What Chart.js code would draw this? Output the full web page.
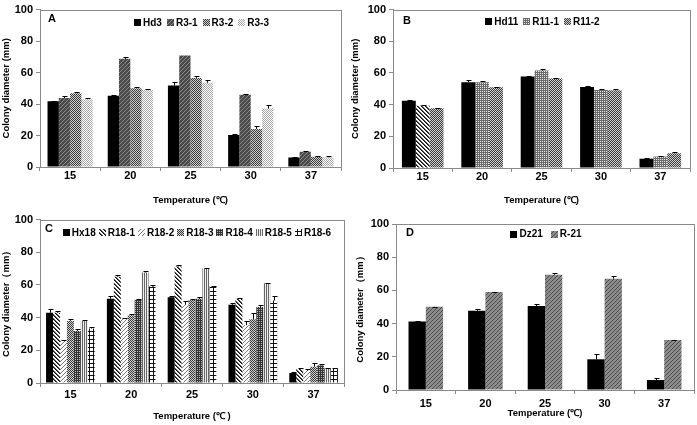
<!DOCTYPE html>
<html>
<head>
<meta charset="utf-8">
<script src="https://cdn.jsdelivr.net/npm/chart.js@4.4.1/dist/chart.umd.min.js"></script>
<style>
  body { margin: 0; background: #fff; }
  #wrap { position: relative; width: 697px; height: 425px; background: #fff; }
  canvas { position: absolute; }
</style>
</head>
<body>
<div id="wrap">
  <canvas id="cA" width="347" height="210" style="left:0;top:0"></canvas>
  <canvas id="cB" width="350" height="210" style="left:347px;top:0"></canvas>
  <canvas id="cC" width="347" height="215" style="left:0;top:210px"></canvas>
  <canvas id="cD" width="350" height="215" style="left:347px;top:210px"></canvas>
</div>
<script>
// temperaturas (categorias comuns aos 4 painéis)
const temperaturas = ['15', '20', '25', '30', '37'];
const yTicks = [0, 20, 40, 60, 80, 100];

// Painel A
const hd3 = [41.7, 45.3, 51.8, 20.3, 6.0];
const r3_1 = [43.8, 68.7, 70.8, 45.9, 9.7];
const r3_2 = [46.9, 50.1, 56.6, 24.2, 6.5];
const r3_3 = [43.1, 49.0, 53.6, 37.1, 6.2];
const errHd3 = [0.4, 0.5, 2.5, 0.4, 0.3];
const errR3_1 = [1.5, 1.5, 0, 0.3, 0.3];
const errR3_2 = [1.0, 1.0, 1.0, 2.0, 0.5];
const errR3_3 = [0.5, 0.5, 1.5, 2.5, 0.6];

// Painel B
const hd11 = [42.4, 54.2, 57.8, 51.1, 5.8];
const r11_1 = [39.3, 54.2, 61.5, 49.3, 7.2];
const r11_2 = [37.7, 50.9, 56.5, 49.1, 9.3];
const errHd11 = [0.5, 1.6, 0.5, 0.7, 0.3];
const errR11_1 = [0.5, 0.5, 0.7, 0.3, 0.6];
const errR11_2 = [0.3, 0.3, 0.5, 0.7, 0.7];

// Painel C
const hx18 = [43.0, 51.6, 52.5, 47.9, 6.1];
const r18_1 = [43.0, 65.0, 71.3, 51.5, 8.5];
const r18_2 = [25.7, 39.4, 47.9, 35.4, 7.5];
const r18_3 = [38.0, 41.4, 50.8, 39.0, 10.0];
const r18_4 = [31.9, 50.9, 51.5, 46.5, 10.9];
const r18_5 = [38.0, 67.7, 70.1, 61.0, 9.1];
const r18_6 = [33.3, 59.0, 59.0, 50.5, 9.1];
const errHx18 = [2.5, 1.5, 0.8, 1.0, 0.5];
const errR18_1 = [0.8, 0.8, 1.0, 0.8, 0.5];
const errR18_2 = [0.5, 0.5, 2.5, 2.5, 1.0];
const errR18_3 = [1.0, 0.8, 0.5, 4.0, 2.5];
const errR18_4 = [1.0, 0.5, 1.0, 1.0, 0.8];
const errR18_5 = [0.3, 0.8, 0.5, 0.3, 0.3];
const errR18_6 = [0.8, 1.0, 0.5, 2.5, 0.3];

// Painel D
const dz21 = [41.2, 47.8, 50.6, 18.5, 6.0];
const r21 = [50.1, 59.1, 69.5, 67.0, 30.1];
const errDz21 = [0.5, 1.2, 1.0, 3.0, 1.0];
const errR21 = [0.2, 0.2, 1.0, 1.5, 0.2];

const FONTE = 'Liberation Sans, Arial, sans-serif';

// Cria texturas para as barras
function textura(tipo) {
  const c = document.createElement('canvas');
  c.width = 4; c.height = 4;
  const g = c.getContext('2d');
  function px(x, y, cor) { g.fillStyle = cor; g.fillRect(x, y, 1, 1); }
  if (tipo === 'diagEscura') {
    g.fillStyle = '#4a4a4a'; g.fillRect(0, 0, 4, 4);
    for (let i = 0; i < 4; i++) px(i, 3 - i, '#8a8a8a');
  } else if (tipo === 'xadrez') {
    for (let x = 0; x < 4; x++) for (let y = 0; y < 4; y++)
      px(x, y, (x + y) % 2 ? '#d0d0d0' : '#3a3a3a');
  } else if (tipo === 'xadrezClaro') {
    for (let x = 0; x < 4; x++) for (let y = 0; y < 4; y++)
      px(x, y, (x + y) % 2 ? '#ffffff' : '#a8a8a8');
  } else if (tipo === 'grade') {
    g.fillStyle = '#e8e8e8'; g.fillRect(0, 0, 4, 4);
    g.fillStyle = '#6a6a6a'; g.fillRect(0, 0, 4, 1); g.fillRect(0, 0, 1, 4);
    g.fillRect(0, 2, 4, 1); g.fillRect(2, 0, 1, 4);
  } else if (tipo === 'gradeEscura') {
    g.fillStyle = '#bbbbbb'; g.fillRect(0, 0, 4, 4);
    g.fillStyle = '#333'; g.fillRect(0, 0, 4, 1); g.fillRect(0, 0, 1, 4);
    g.fillRect(0, 2, 4, 1); g.fillRect(2, 0, 1, 4);
  } else if (tipo === 'diagBranca') {
    g.fillStyle = '#fff'; g.fillRect(0, 0, 4, 4);
    for (let i = 0; i < 4; i++) { px(i, i, '#111'); px((i + 1) % 4, i, '#555'); }
  } else if (tipo === 'diagLeve') {
    g.fillStyle = '#fff'; g.fillRect(0, 0, 4, 4);
    for (let i = 0; i < 4; i++) px(i, 3 - i, '#777');
  } else if (tipo === 'vertical') {
    g.fillStyle = '#eee'; g.fillRect(0, 0, 4, 4);
    g.fillStyle = '#666'; g.fillRect(0, 0, 1, 4); g.fillRect(2, 0, 1, 4);
  } else if (tipo === 'mais') {
    g.fillStyle = '#fff'; g.fillRect(0, 0, 4, 4);
    g.fillStyle = '#111'; g.fillRect(0, 1, 4, 1); g.fillRect(1, 0, 1, 4);
  } else if (tipo === 'diagCinza') {
    g.fillStyle = '#8c8c8c'; g.fillRect(0, 0, 4, 4);
    for (let i = 0; i < 4; i++) { px(i, 3 - i, '#4e4e4e'); }
  }
  return g.createPattern(c, 'repeat');
}

// Barras de erro desenhadas com a escala do próprio gráfico
const barrasErro = {
  id: 'barrasErro',
  afterDatasetsDraw(chart) {
    const ctx = chart.ctx;
    const y = chart.scales.y;
    chart.data.datasets.forEach((ds, i) => {
      if (!ds.erros) return;
      chart.getDatasetMeta(i).data.forEach((bar, j) => {
        const e = ds.erros[j];
        if (!e) return;
        const topo = Math.round(y.getPixelForValue(ds.data[j] + e)) + 0.5;
        const x = Math.round(bar.x) + 0.5;
        ctx.save();
        ctx.strokeStyle = '#000';
        ctx.lineWidth = 1;
        ctx.beginPath();
        ctx.moveTo(x, bar.y); ctx.lineTo(x, topo);
        ctx.moveTo(x - 2, topo); ctx.lineTo(x + 3, topo);
        ctx.stroke();
        ctx.restore();
      });
    });
  }
};

// Moldura, letra do painel e legenda dentro da área do gráfico
const moldura = {
  id: 'moldura',
  afterDraw(chart, args, opts) {
    const { ctx, chartArea: a } = chart;
    ctx.save();
    ctx.strokeStyle = '#8a8a8a';
    ctx.lineWidth = 1;
    ctx.strokeRect(Math.round(a.left) + 0.5, Math.round(a.top) + 0.5,
      Math.round(a.right - a.left), Math.round(a.bottom - a.top));
    ctx.fillStyle = '#000';
    ctx.font = 'bold 11px ' + FONTE;
    ctx.textBaseline = 'middle';
    ctx.fillText(opts.letra, a.left + opts.dx, a.top + opts.dy);

    // legenda
    ctx.font = 'bold 10px ' + FONTE;
    const itens = chart.data.datasets.map(ds => ({
      texto: ds.label,
      cor: ds.corLegenda || ds.backgroundColor,
      largura: ctx.measureText(ds.label).width
    }));
    const caixa = 7, folga = 2, espaco = opts.espaco;
    const total = itens.reduce((s, it) => s + caixa + folga + it.largura, 0) + espaco * (itens.length - 1);
    let x = (a.left + a.right) / 2 + opts.legDx - total / 2;
    const yc = a.top + opts.legDy;
    itens.forEach(it => {
      ctx.fillStyle = it.cor;
      ctx.fillRect(Math.round(x), Math.round(yc - caixa / 2), caixa, caixa);
      ctx.fillStyle = '#000';
      ctx.fillText(it.texto, x + caixa + folga, yc + 0.5);
      x += caixa + folga + it.largura + espaco;
    });
    ctx.restore();
  }
};

function criarGrafico(id, series, cfg) {
  const contexto = document.getElementById(id).getContext('2d');
  const altura = contexto.canvas.height;
  return new Chart(contexto, {
    type: 'bar',
    data: {
      labels: temperaturas,
      datasets: series.map(s => ({
        label: s.nome,
        data: s.dados,
        erros: s.erros,
        backgroundColor: s.cor,
        corLegenda: s.legenda,
        borderWidth: 0,
        categoryPercentage: cfg.categoria,
        barPercentage: 1
      }))
    },
    options: {
      responsive: false,
      animation: false,
      layout: { padding: { top: cfg.topo, right: cfg.direita, left: 0, bottom: 0 } },
      scales: {
        x: {
          afterFit: sc => { sc.height = altura - cfg.base; },
          grid: { display: true, drawOnChartArea: false, tickLength: 4, color: '#8a8a8a', offset: true },
          border: { color: '#8a8a8a' },
          ticks: { color: '#000', padding: cfg.padTickX, font: { family: FONTE, size: 11, weight: 'bold' } },
          title: {
            display: true, text: cfg.tituloX, color: '#000',
            padding: { top: 0, bottom: cfg.padTituloX },
            font: { family: FONTE, size: 9.5, weight: 'bold' }
          }
        },
        y: {
          min: 0, max: 100,
          afterFit: sc => { sc.width = cfg.esquerda; },
          afterBuildTicks: sc => { sc.ticks = yTicks.map(v => ({ value: v })); },
          grid: { display: true, drawOnChartArea: false, tickLength: 4, color: '#8a8a8a' },
          border: { color: '#8a8a8a' },
          ticks: { color: '#000', padding: 3, font: { family: FONTE, size: 11, weight: 'bold' } },
          title: {
            display: true, text: cfg.tituloY, color: '#000',
            padding: { top: cfg.padTituloY, bottom: 0 },
            font: { family: FONTE, size: 9.5, weight: 'bold' }
          }
        }
      },
      plugins: {
        legend: { display: false },
        tooltip: { enabled: false },
        moldura: {
          letra: cfg.letra, dx: cfg.letraDx, dy: cfg.letraDy,
          legDx: cfg.legDx, legDy: cfg.legDy, espaco: cfg.espaco
        }
      }
    },
    plugins: [barrasErro, moldura]
  });
}

const preto = '#000';
const texR11_1 = textura('grade');
const texR11_1b = textura('diagBranca');

criarGrafico('cA', [
  { nome: 'Hd3', dados: hd3, erros: errHd3, cor: preto },
  { nome: 'R3-1', dados: r3_1, erros: errR3_1, cor: textura('diagEscura') },
  { nome: 'R3-2', dados: r3_2, erros: errR3_2, cor: textura('xadrez') },
  { nome: 'R3-3', dados: r3_3, erros: errR3_3, cor: textura('xadrezClaro') }
], { categoria: 0.75, topo: 6, direita: 6, esquerda: 40, base: 167, padTickX: -2, padTituloX: 4, padTituloY: 1,
     tituloX: 'Temperature (℃)', tituloY: 'Colony diameter (mm)', letra: 'A', letraDx: 8, letraDy: 9,
     legDx: 11, legDy: 13, espaco: 5 });

criarGrafico('cB', [
  { nome: 'Hd11', dados: hd11, erros: errHd11, cor: preto },
  { nome: 'R11-1', dados: r11_1, erros: errR11_1, cor: c => c.dataIndex === 0 ? texR11_1b : texR11_1, legenda: texR11_1 },
  { nome: 'R11-2', dados: r11_2, erros: errR11_2, cor: textura('xadrez') }
], { categoria: 0.7, topo: 7, direita: 7, esquerda: 46, base: 168, padTickX: -2, padTituloX: 4, padTituloY: 3,
     tituloX: 'Temperature (℃)', tituloY: 'Colony diameter (mm)', letra: 'B', letraDx: 10, letraDy: 11,
     legDx: 1, legDy: 12, espaco: 5 });

criarGrafico('cC', [
  { nome: 'Hx18', dados: hx18, erros: errHx18, cor: preto },
  { nome: 'R18-1', dados: r18_1, erros: errR18_1, cor: textura('diagBranca') },
  { nome: 'R18-2', dados: r18_2, erros: errR18_2, cor: textura('diagLeve') },
  { nome: 'R18-3', dados: r18_3, erros: errR18_3, cor: textura('xadrez') },
  { nome: 'R18-4', dados: r18_4, erros: errR18_4, cor: textura('gradeEscura') },
  { nome: 'R18-5', dados: r18_5, erros: errR18_5, cor: textura('vertical') },
  { nome: 'R18-6', dados: r18_6, erros: errR18_6, cor: textura('mais') }
], { categoria: 0.8, topo: 8, direita: 3, esquerda: 40, base: 173, padTickX: 1, padTituloX: 3, padTituloY: 1,
     tituloX: 'Temperature (℃ )', tituloY: 'Colony diameter（mm）', letra: 'C', letraDx: 5, letraDy: 9,
     legDx: 5, legDy: 13, espaco: 3 });

criarGrafico('cD', [
  { nome: 'Dz21', dados: dz21, erros: errDz21, cor: preto },
  { nome: 'R-21', dados: r21, erros: errR21, cor: textura('diagCinza') }
], { categoria: 0.58, topo: 14, direita: 3, esquerda: 49, base: 180, padTickX: 3, padTituloX: 6, padTituloY: 8,
     tituloX: 'Temperature (℃)', tituloY: 'Colony diameter（mm）', letra: 'D', letraDx: 10, letraDy: 9,
     legDx: 1, legDy: 10, espaco: 8 });
</script>
</body>
</html>
